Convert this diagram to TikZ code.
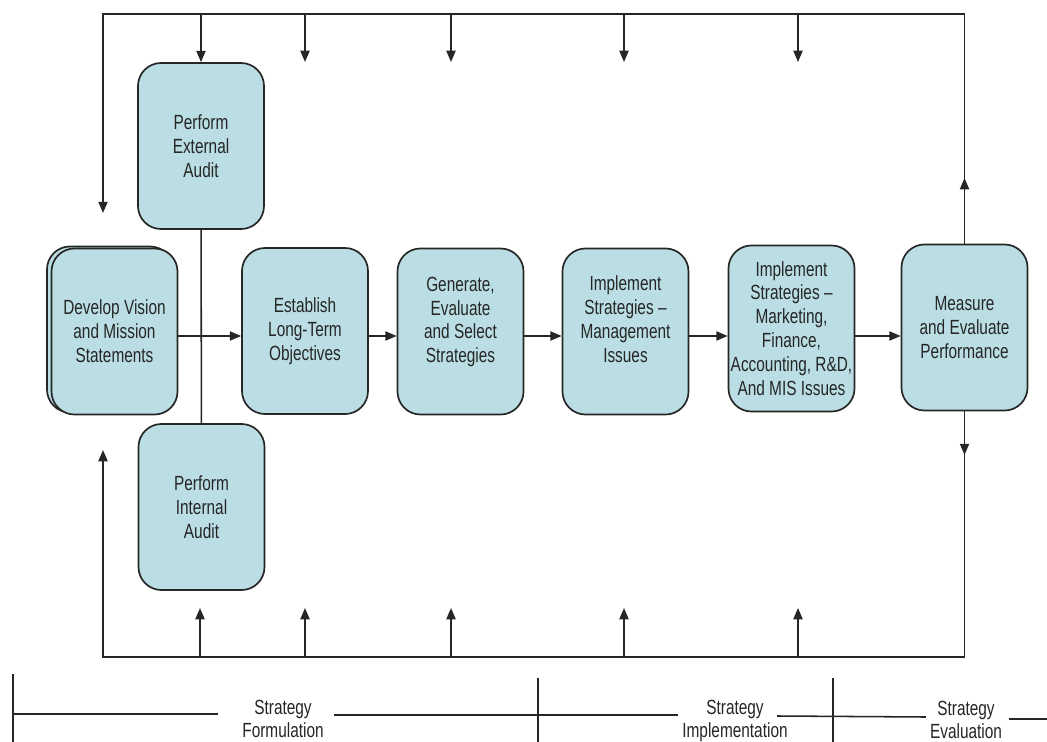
\documentclass[tikz,border=0pt]{standalone}
\usepackage{fontspec}
\newfontfamily\boxfont[FakeStretch=0.75]{Liberation Sans}
\usetikzlibrary{arrows.meta, calc}
\definecolor{boxblue}{RGB}{186,222,228}
\definecolor{inkgray}{RGB}{38,38,38}

\tikzset{
  stagebox/.style={draw=inkgray, line width=1.2pt, fill=boxblue, rounded corners=0.575cm,
    minimum width=3.15cm, minimum height=4.15cm, inner sep=0pt, align=center,
    text=inkgray, font=\boxfont\fontsize{14.6}{17}\selectfont},
  flow/.style={draw=inkgray, line width=1.1pt, line cap=rect, -{Triangle[length=8pt,width=6.5pt]}},
  loopline/.style={draw=inkgray, line width=1.1pt, line cap=rect},
  phase/.style={align=center, inner sep=0pt, text=inkgray, font=\boxfont\fontsize{14.6}{15.8}\selectfont}
}

\begin{document}
\begin{tikzpicture}[x=0.025cm, y=-0.025cm]
\useasboundingbox[fill=white] (0,0) rectangle (1047,742);

% Stage boxes
\node[stagebox] (devback) at (110,329.5) {};
\node[stagebox] (dev) at (114.5,331.5) {Develop Vision\\and Mission\\Statements};
\node[stagebox] (ext) at (201,146) {Perform\\External\\Audit};
\node[stagebox] (int) at (201.5,507) {Perform\\Internal\\Audit};
\node[stagebox] (est) at (305,331) {Establish\\Long-Term\\Objectives};
\node[stagebox, text depth=16.6pt] (gen) at (460.5,331.5) {Generate,\\Evaluate\\and Select\\Strategies};
\node[stagebox, text depth=17.7pt] (mgmt) at (625.5,331.5) {Implement\\Strategies –\\Management\\Issues};
\node[stagebox] (mkt) at (791.5,328.5) {Implement\\Strategies –\\Marketing,\\Finance,\\Accounting, R\&D,\\And MIS Issues};
\node[stagebox] (meas) at (964.5,327.5) {Measure\\and Evaluate\\Performance};

% Main flow
\coordinate (row) at (0,336);
\draw[loopline] (ext) -- (int);
\draw[flow] (dev.east |- row) -- (est.west |- row);
\draw[flow] (est.east |- row) -- (gen.west |- row);
\draw[flow] (gen.east |- row) -- (mgmt.west |- row);
\draw[flow] (mgmt.east |- row) -- (mkt.west |- row);
\draw[flow] (mkt.east |- row) -- (meas.west |- row);

% Feedback loop
\coordinate (tl) at (103,14);
\coordinate (bl) at (103,657);
\coordinate (tltip) at (103,213);
\coordinate (bltip) at (103,450);
\coordinate (mup) at (964.5,178);
\coordinate (mdown) at (964.5,455);
\draw[loopline] (tl) -| (meas.north);
\draw[loopline] (bl) -| (meas.south);
\draw[flow] (tl) -- (tltip);
\draw[flow] (bl) -- (bltip);
\draw[flow] (meas.north) -- (mup);
\draw[flow] (meas.south) -- (mdown);

% Arrows in from the top
\draw[flow] (ext.north |- tl) -- (ext.north);
\foreach \x in {305,451,624,798} {
    \coordinate (in\x) at (\x,14);
    \coordinate (intip\x) at (\x,62);
    \draw[flow] (in\x) -- (intip\x);
}
% Arrows in from the bottom
\foreach \x in {200,305,451,624,798} {
    \coordinate (out\x) at (\x,657);
    \coordinate (outtip\x) at (\x,608);
    \draw[flow] (out\x) -- (outtip\x);
}

% Phases
\node[phase] (form) at (283,719) {Strategy\\Formulation};
\node[phase] (impl) at (735,721) {Strategy\\Implementation};
\node[phase] (eval) at (966,720) {Strategy\\Evaluation};
\foreach \x/\y [count=\i] in {13/675, 538/679, 833/679} {
    \coordinate (tick\i) at (\x,\y);
    \coordinate (tickend\i) at (\x,742);
    \draw[loopline] (tick\i) -- (tickend\i);
}
\coordinate (f0) at (13,714);
\coordinate (f1) at (217,714);
\coordinate (f2) at (335,715);
\coordinate (f3) at (677,715);
\coordinate (i1) at (778,716);
\coordinate (i2) at (925,717);
\coordinate (e1) at (1010,719);
\coordinate (e2) at (1047,719);
\draw[loopline] (f0) -- (f1);
\draw[loopline] (f2) -- (f3);
\draw[loopline] (i1) -- (i2);
\draw[loopline] (e1) -- (e2);

\end{tikzpicture}
\end{document}
